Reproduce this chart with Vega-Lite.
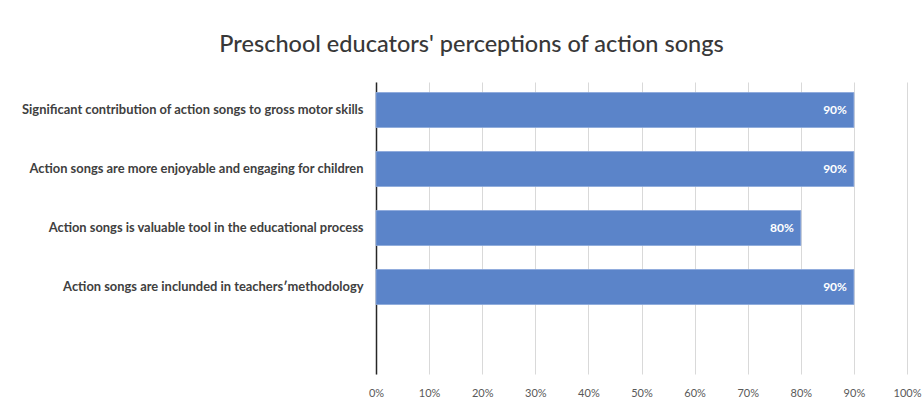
{
  "$schema": "https://vega.github.io/schema/vega-lite/v6.json",
  "width": 531,
  "height": 292,
  "autosize": {"type": "none"},
  "padding": {"left": 376, "top": 82, "right": 17, "bottom": 31},
  "background": "white",
  "title": {
    "text": "Preschool educators' perceptions of action songs",
    "font": "Lato",
    "fontSize": 23.5,
    "fontWeight": 500,
    "color": "#383838",
    "anchor": "middle",
    "frame": "group",
    "dx": -170,
    "offset": 26
  },
  "config": {
    "view": {"stroke": null}
  },
  "data": {
    "values": [
      {"statement": "Significant contribution of action songs to gross motor skills", "value": 0.9},
      {"statement": "Action songs are more enjoyable and engaging for children", "value": 0.9},
      {"statement": "Action songs is valuable tool in the educational process", "value": 0.8},
      {"statement": "Action songs are inclunded in teachers\u02b9methodology", "value": 0.9}
    ]
  },
  "encoding": {
    "y": {
      "field": "statement",
      "type": "nominal",
      "sort": null,
      "scale": {
        "domain": [
          "Significant contribution of action songs to gross motor skills",
          "Action songs are more enjoyable and engaging for children",
          "Action songs is valuable tool in the educational process",
          "Action songs are inclunded in teachers\u02b9methodology",
          " "
        ],
        "paddingInner": 0.407,
        "paddingOuter": 0.178
      },
      "axis": {
        "title": null,
        "ticks": false,
        "domain": true,
        "domainColor": "#262626",
        "domainWidth": 1.5,
        "labelFont": "Lato",
        "labelFontSize": 12.9,
        "labelFontWeight": "bold",
        "labelColor": "#404040",
        "labelPadding": 13,
        "labelLimit": 400
      }
    },
    "x": {
      "field": "value",
      "type": "quantitative",
      "scale": {"domain": [0, 1], "nice": false},
      "axis": {
        "title": null,
        "format": ".0%",
        "values": [0, 0.1, 0.2, 0.3, 0.4, 0.5, 0.6, 0.7, 0.8, 0.9, 1],
        "domain": false,
        "ticks": false,
        "grid": true,
        "gridColor": "#d9d9d9",
        "gridWidth": 1,
        "labelFlush": false,
        "labelFont": "Lato",
        "labelFontSize": 11,
        "labelColor": "#595959",
        "labelPadding": 13
      }
    }
  },
  "layer": [
    {
      "mark": {"type": "bar", "color": "#5b84c9", "stroke": "#8aa7db", "strokeWidth": 0.8}
    },
    {
      "mark": {
        "type": "text",
        "align": "right",
        "baseline": "middle",
        "dx": -7,
        "color": "white",
        "font": "Lato",
        "fontSize": 12,
        "fontWeight": "bold"
      },
      "encoding": {
        "text": {"field": "value", "type": "quantitative", "format": ".0%"}
      }
    }
  ]
}
